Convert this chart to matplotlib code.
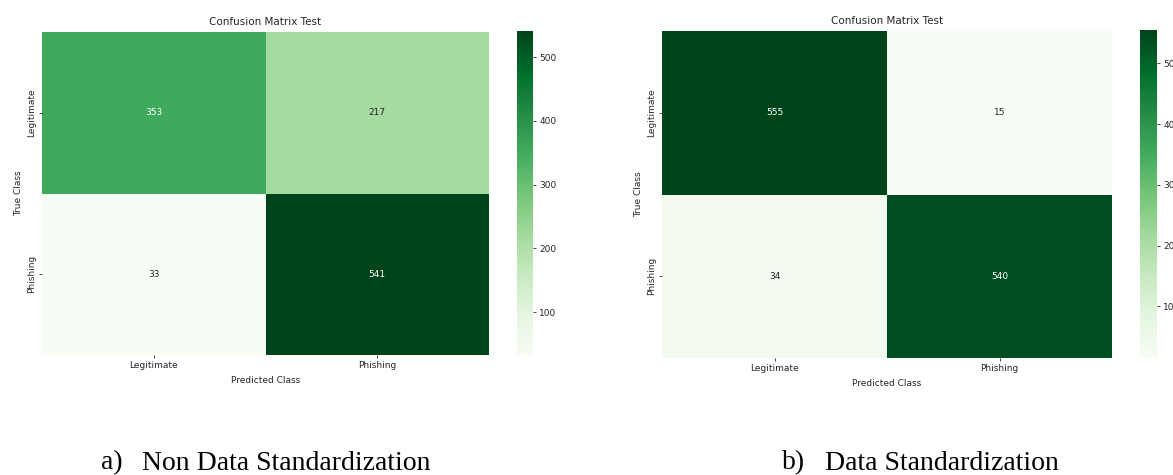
import matplotlib
matplotlib.use("Agg")
import matplotlib.pyplot as plt
import numpy as np
import seaborn as sns

# class labels
classes = ["Legitimate", "Phishing"]

# confusion matrices (rows = true, cols = predicted)
cm_non_std = np.array([[353, 217],
                       [33, 541]])
cm_std = np.array([[555, 15],
                   [34, 540]])

caption_tags = ["a)", "b)"]
captions = ["Non Data Standardization", "Data Standardization"]

plt.rcParams["text.color"] = "0.15"
plt.rcParams["axes.labelcolor"] = "0.15"
plt.rcParams["xtick.color"] = "0.15"
plt.rcParams["ytick.color"] = "0.15"

W, H = 1173, 475
fig = plt.figure(figsize=(W / 100, H / 100), dpi=100)


def px_axes(x0, y0, x1, y1):
    # pixel box (from top-left) -> figure axes
    return fig.add_axes([x0 / W, 1 - y1 / H, (x1 - x0) / W, (y1 - y0) / H])


boxes = [
    ((42, 32, 489, 355), (517, 31, 533, 355)),
    ((662, 31, 1112, 358), (1140, 30, 1157, 358)),
]

for cm, (hbox, cbox) in zip([cm_non_std, cm_std], boxes):
    ax = px_axes(*hbox)
    cax = px_axes(*cbox)
    sns.heatmap(cm, annot=True, fmt="d", cmap="Greens", ax=ax, cbar_ax=cax,
                xticklabels=classes, yticklabels=classes,
                annot_kws={"fontsize": 6.5})
    ax.set_title("Confusion Matrix Test", fontsize=7.5, pad=5)
    ax.set_xlabel("Predicted Class", fontsize=6.5, labelpad=4)
    ax.set_ylabel("True Class", fontsize=6.5, labelpad=3)
    ax.tick_params(axis="both", labelsize=6.5, length=2.5, width=0.6, pad=2)
    cax.tick_params(labelsize=6.5, length=2.5, width=0.6, pad=2)

# captions under each panel
cap_y = 1 - 463 / H
for tag, cap, xt, xc in zip(caption_tags, captions, [101, 782], [142, 825]):
    fig.text(xt / W, cap_y, tag, family="Liberation Serif", fontsize=20,
             va="center", ha="left", color="black")
    fig.text(xc / W, cap_y, cap, family="Liberation Serif", fontsize=20,
             va="center", ha="left", color="black")

fig.savefig("out.png", dpi=100)
